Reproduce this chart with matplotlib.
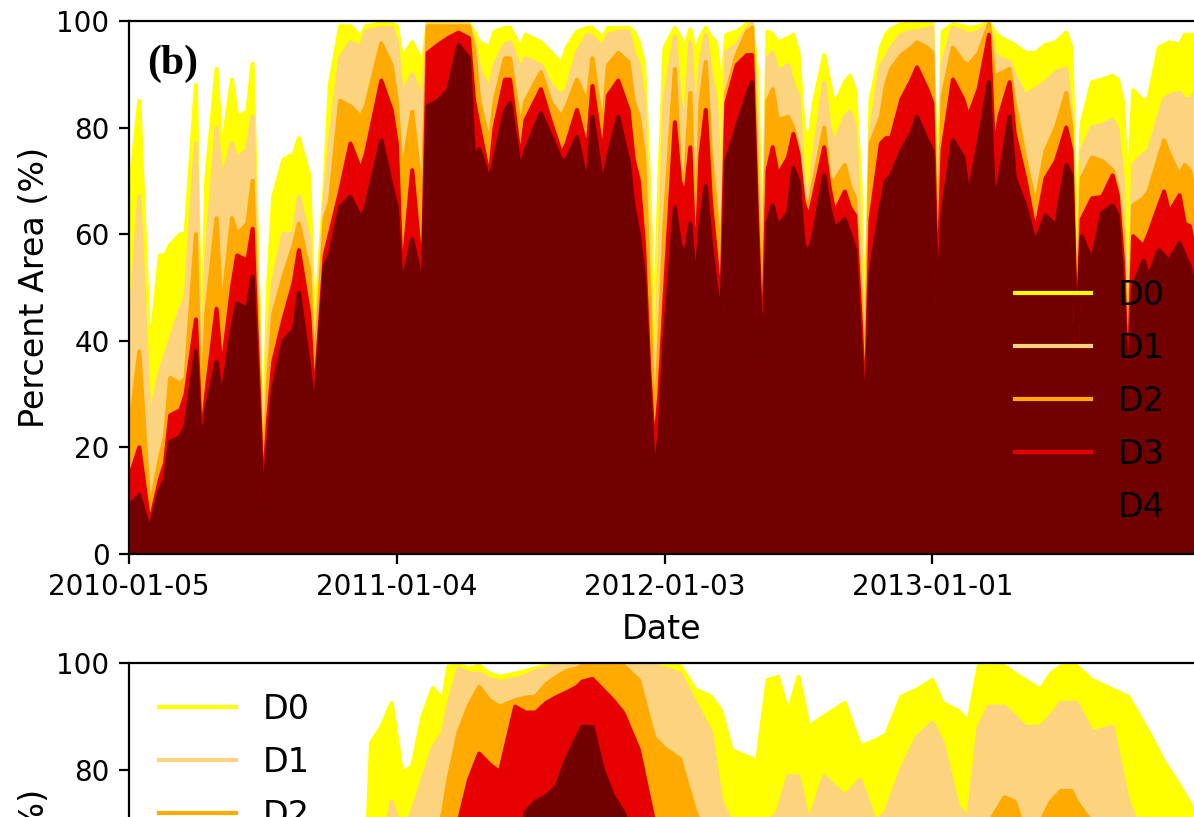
import numpy as np
import pandas as pd
import matplotlib
matplotlib.use("Agg")
import matplotlib.pyplot as plt
import matplotlib.dates as mdates

start = pd.Timestamp("2010-01-05")

# panel (b): weeks since 2010-01-05, percent area in D0-D4, D1-D4, ... D4
weeks = [0, 2, 4, 6, 7, 8, 10, 11, 13, 14, 15, 17, 18, 20, 21, 23, 24, 26, 27, 28,
         30, 32, 33, 35, 36, 38, 39, 41, 43, 45, 46, 49, 51, 52,
         53, 55, 57, 58, 60, 62, 64, 66, 67, 68, 70, 71, 73, 74, 76, 77,
         80, 82, 84, 85, 87, 89, 90, 92, 93, 95, 97, 98, 99, 100, 101, 102, 103, 104,
         106, 107, 108, 109, 110, 111, 112, 113, 114, 115, 116, 118, 120, 121, 122, 123,
         124, 125, 126, 128, 129, 130, 131, 132, 133, 135, 136, 137, 139, 140, 141, 142,
         143, 144, 146, 147, 148, 150, 152, 153, 155, 156,
         157, 158, 160, 162, 163, 165, 167, 168, 169, 171, 172, 174, 176, 178, 180, 182,
         183, 184, 185, 187, 189, 191, 192, 193, 194, 195, 197, 198, 200, 201, 202, 204,
         205, 206, 207]

d0 = [67, 85, 37, 56, 56, 58, 60, 60, 88, 30, 70, 91, 75, 89, 82, 83, 92, 15, 50, 67,
      74, 75, 78, 71, 40, 69, 88, 99, 99, 97, 99, 99.5, 99.5, 99,
      93, 96, 92, 99.5, 99.5, 99.5, 99.5, 99.5, 98, 96, 95, 98, 98.7, 98.7, 95, 97.4,
      96, 94, 92, 95, 98, 98.7, 98.7, 96.8, 98.7, 98.7, 98.7, 98, 96, 92, 70, 40, 70, 95,
      98.7, 97, 95, 98.4, 94, 97, 98.7, 97, 96, 86.5, 97.4, 98, 99.4, 99.5, 90, 50,
      98, 97.5, 96, 96.8, 97.4, 94, 80, 77, 84.6, 93.6, 88.5, 84, 88.5, 89.7, 87, 70,
      40, 85, 95, 97.4, 98.5, 99.4, 99.7, 99.7, 99.5, 99.4,
      60, 98, 99.4, 99, 98.7, 99, 99.7, 98, 97, 96, 95.5, 94, 94, 95.5, 96, 97.8,
      95, 55, 80.8, 88.5, 89, 89.7, 89, 85, 65, 87, 85, 85.5, 95, 95.5, 96, 95.5,
      97.4, 97.4, 97.4]

d1 = [40, 67, 25, 34, 37, 40, 46, 48, 77, 25, 55, 80, 70, 77, 74, 76, 82, 13, 40, 51,
      60, 60, 67, 59, 36, 66, 77, 93, 96, 95, 98, 98.7, 98.7, 96,
      86, 90, 85, 99.3, 99.3, 99.3, 99.3, 99.3, 96, 91, 87, 91.7, 95.5, 96, 91, 93,
      91.7, 87.8, 86, 87, 94, 97.4, 97, 95, 97.4, 98, 98, 94, 91.7, 85, 60, 25, 55, 85,
      97, 85, 80, 96, 80, 92, 97.4, 90, 85, 63, 94, 95.5, 98.5, 99.4, 80, 45,
      93, 94, 90.4, 91.7, 88, 86, 70, 67, 74.4, 88.5, 80, 77, 82, 83, 80, 60,
      34, 79, 91.7, 93, 95, 97.4, 98, 98, 98.5, 98.7,
      52, 92, 98.7, 98, 97.4, 98, 99.4, 94, 93, 92.3, 89.7, 86, 87.2, 88.5, 90.4, 91,
      82, 43.6, 75.6, 80, 80.5, 81.4, 79.5, 70, 37, 73, 75, 75.6, 82, 85.3, 86, 86.5,
      85.3, 85.3, 86.5]

d2 = [22, 38, 8, 18, 22, 33, 32, 33, 60, 23, 45, 63, 45, 63, 60, 62, 70, 12, 32, 45,
      52, 58, 62, 53, 33, 63, 66, 85, 84, 82, 84, 95.8, 91.7, 85,
      71, 83, 66, 99, 99, 99, 99, 99, 95, 85, 77, 85, 93, 93, 80, 85,
      90.4, 84.6, 82, 84, 89, 84.6, 93, 79.5, 91.7, 94, 92.3, 85, 82, 75, 50, 22, 40, 62,
      91, 72, 70, 86.5, 56, 85, 92.3, 75, 65, 54, 86.5, 93.6, 98, 98.7, 70, 43,
      85, 87.2, 81.4, 82, 80, 76, 67, 65, 70, 80, 70.5, 70, 73, 69, 66.7, 50,
      30, 77, 82, 88, 91, 93.6, 95, 96, 95, 94,
      50, 86, 95, 92.3, 91.7, 94, 99.4, 89.7, 90, 91, 84.6, 74.4, 65.4, 75.6, 80, 86.5,
      80, 40.4, 70.5, 74.4, 73.7, 72, 68.6, 60, 34, 65.4, 66.7, 68, 74.4, 77.6, 75, 71,
      73, 72, 68]

d3 = [14, 20, 5.5, 14, 17, 26, 27, 30, 44, 21, 30, 46, 34, 50, 56, 55, 61, 10.5, 25, 36,
      44, 51, 57, 45, 28, 56, 60, 68, 77, 72, 75, 88.8, 83.3, 77,
      51, 72, 51, 94, 95.5, 96.8, 97.8, 96.8, 85, 80, 70.5, 80, 89, 89, 73.7, 81.4,
      87.2, 80.8, 75, 77, 83.3, 75.6, 87.8, 74.4, 86, 88.8, 83.3, 74, 70, 58, 35, 19, 30, 48,
      81, 70, 67, 76.3, 51, 75, 83.3, 66, 56, 45, 84.6, 91.7, 93.6, 93.6, 62, 36,
      72, 76.3, 71, 74.4, 78.8, 75, 66, 63, 67.3, 76.3, 69, 64, 68, 65, 63.5, 45,
      25.6, 62.8, 77, 78, 78, 85.3, 89, 91.3, 87.2, 84.6,
      47, 76, 89, 85.3, 82, 87.2, 97.4, 75, 82, 88.5, 78.8, 70.5, 60.3, 70.5, 73.7, 80,
      75.6, 38.5, 62.8, 66.7, 67, 71, 67.3, 55, 30, 59.6, 57.7, 60, 65.4, 68, 64, 67.3,
      62, 61.5, 56.4]

d4 = [9, 11, 4.5, 12, 14, 21, 22, 24, 38, 19, 27, 36, 29, 42, 47, 46, 52, 9.5, 20, 31,
      40, 42, 49, 35, 26, 54, 56, 65, 67, 63, 65, 77.6, 69, 65,
      50, 59, 50, 84, 85, 87, 95.5, 93, 74, 76, 70, 74, 83, 84.6, 71.8, 75.6,
      82.7, 78.2, 73.7, 74, 78.2, 69, 82, 69, 74.4, 82, 73.7, 65, 60, 52, 32, 14.5, 22, 40,
      65, 58, 56, 62, 50, 62, 69, 58, 50, 44, 73.7, 80, 86, 88.5, 58, 34,
      62, 65.4, 61.5, 64, 72.4, 70, 58, 56.4, 60, 71, 65, 61, 62.8, 60, 57, 40,
      24, 53, 65, 70, 71, 75.6, 79, 82, 77.6, 75.6,
      46, 64, 77.6, 74.4, 67.3, 77, 88.5, 66, 70, 82, 70.5, 65.4, 58.3, 63.5, 61.5, 73,
      71, 38, 59.6, 55, 64, 65.4, 63.5, 50, 29, 50, 55, 52, 57, 56, 55, 58.3,
      56, 54, 48.7]

# lower panel (only its upper part is in view)
weeks_c = [0, 10, 20, 30, 40, 46, 47, 49, 51, 53, 55, 57, 59, 61, 62, 64, 66, 68, 70, 72,
           75, 77, 79, 81, 83, 85, 87, 88, 90, 92, 94, 96, 99, 102, 104, 107, 110, 113, 115, 117,
           120, 122, 124, 126, 128, 130, 132, 135, 139, 142, 145, 147, 150, 153, 156, 158, 161, 163, 165, 167,
           170, 172, 174, 177, 179, 181, 183, 184, 187, 191, 194, 198, 201, 204, 207]
c0 = [30, 40, 35, 50, 45, 60, 85, 88, 92.5, 79.4, 80.6, 90, 95.3, 93, 99.3, 99.6, 99, 99.5, 98, 97.4,
      98, 98.5, 99, 99.5, 99.8, 99.8, 99.8, 99.8, 99.8, 99.8, 99.8, 99.8, 99.8, 99.8, 99.8, 99.5, 95, 93.7, 91, 83.7,
      82.4, 81.7, 96.8, 97.4, 90.6, 97.4, 88, 90, 92.5, 84.3, 85.5, 86.5, 93.7, 95, 96.8, 92.5, 91, 89, 99.4, 99.4,
      99.4, 98, 96.8, 95, 98, 99.4, 99.4, 99.4, 96.8, 95, 93.7, 87, 81.4, 77, 72]
c1 = [15, 20, 18, 25, 28, 40, 55, 62, 74, 68, 72, 78, 84, 87, 92, 99, 98, 98, 97, 96.4,
      97, 97.5, 98.5, 99, 99.8, 99.8, 99.8, 99.8, 99.8, 99.8, 99.8, 99.8, 99.8, 99.5, 99, 98, 92.5, 87, 74, 70,
      68, 66, 70, 72, 78.7, 78.7, 70, 78.7, 75, 78, 70, 72, 80, 86, 88.8, 85, 73, 71, 88, 91.8,
      91.8, 90, 88, 88, 90, 92.5, 92.5, 92.5, 87, 88, 74, 65, 60, 55, 50]
c2 = [8, 10, 8, 12, 14, 20, 30, 35, 40, 45, 50, 55, 65, 72, 78, 87, 92, 95.5, 93, 91.8,
      93, 93.5, 93.7, 96, 97.4, 98.5, 99, 99.5, 99.8, 99.8, 99.8, 99.5, 96.8, 86, 84, 82, 72, 65, 60, 55,
      50, 48, 50, 52, 55, 56, 50, 55, 50, 52, 50, 50, 55, 60, 65, 60, 55, 52, 62, 70,
      74.8, 74, 68, 70, 74, 76, 76, 74, 70, 68, 60, 55, 50, 45, 40]
c3 = [3, 5, 3, 5, 6, 8, 12, 15, 18, 22, 28, 35, 45, 55, 60, 70, 78, 83, 81, 79.5,
      91.8, 90.7, 90.7, 92.5, 93.6, 94.5, 95.5, 96.5, 97, 95, 93, 90.6, 83.7, 70, 65, 60, 55, 50, 45, 40,
      35, 30, 32, 32, 35, 35, 30, 35, 30, 30, 28, 28, 30, 32, 35, 32, 30, 28, 32, 35,
      38, 36, 35, 35, 38, 40, 40, 38, 35, 35, 32, 30, 28, 25, 22]
c4 = [0, 1, 0, 1, 1, 2, 3, 4, 5, 6, 8, 10, 15, 20, 25, 30, 35, 40, 45, 50,
      60, 72, 74, 75, 76.8, 82, 86, 88, 88, 80, 75, 72, 65, 55, 50, 45, 40, 35, 30, 25,
      20, 18, 18, 18, 20, 20, 18, 20, 18, 16, 15, 15, 16, 17, 18, 17, 16, 15, 16, 18,
      20, 18, 18, 18, 20, 22, 22, 20, 18, 18, 16, 15, 14, 12, 10]

colors = ["#FFFF00", "#FCD37F", "#FFAA00", "#E60000", "#730000"]
labels = ["D0", "D1", "D2", "D3", "D4"]
tick_dates = pd.to_datetime(["2010-01-05", "2011-01-04", "2012-01-03", "2013-01-01"])


def to_dates(w):
    return start + pd.to_timedelta(np.array(w) * 7, unit="D")


def draw(ax, w, series):
    dates = to_dates(w)
    for vals, c, lab in zip(series, colors, labels):
        ax.fill_between(dates, 0, vals, color=c, lw=0)
        ax.plot(dates, vals, color=c, label=lab)
    ax.set_xlim(start, start + pd.Timedelta(weeks=207))
    ax.set_ylim(0, 100)
    ax.set_yticks([0, 20, 40, 60, 80, 100])
    ax.set_xticks(tick_dates)
    ax.xaxis.set_major_formatter(mdates.DateFormatter("%Y-%m-%d"))
    ax.set_ylabel("Percent Area (%)", fontsize=12, labelpad=2)


fig = plt.figure(figsize=(5.97, 4.085), dpi=200)
W, H = 1194.0, 817.0
ax1 = fig.add_axes([129 / W, (H - 554) / H, 1066 / W, 533 / H])
ax2 = fig.add_axes([129 / W, (H - 663 - 533) / H, 1066 / W, 533 / H])

draw(ax1, weeks, [d0, d1, d2, d3, d4])
ax1.set_xlabel("Date", fontsize=12)
ax1.legend(loc="lower right", frameon=False, fontsize=12, handlelength=2.3,
           labelspacing=0.6)
ax1.text(0.017, 0.955, "(b)", transform=ax1.transAxes, fontsize=15,
         fontweight="bold", family="Liberation Serif", va="top", ha="left")

# lower panel: its x axis lies below the visible area
draw(ax2, weeks_c, [c0, c1, c2, c3, c4])
ax2.tick_params(axis="x", labelbottom=False)
ax2.legend(loc="upper left", frameon=False, fontsize=12, handlelength=2.3,
           labelspacing=0.6)

fig.savefig("out.png", dpi=200)
